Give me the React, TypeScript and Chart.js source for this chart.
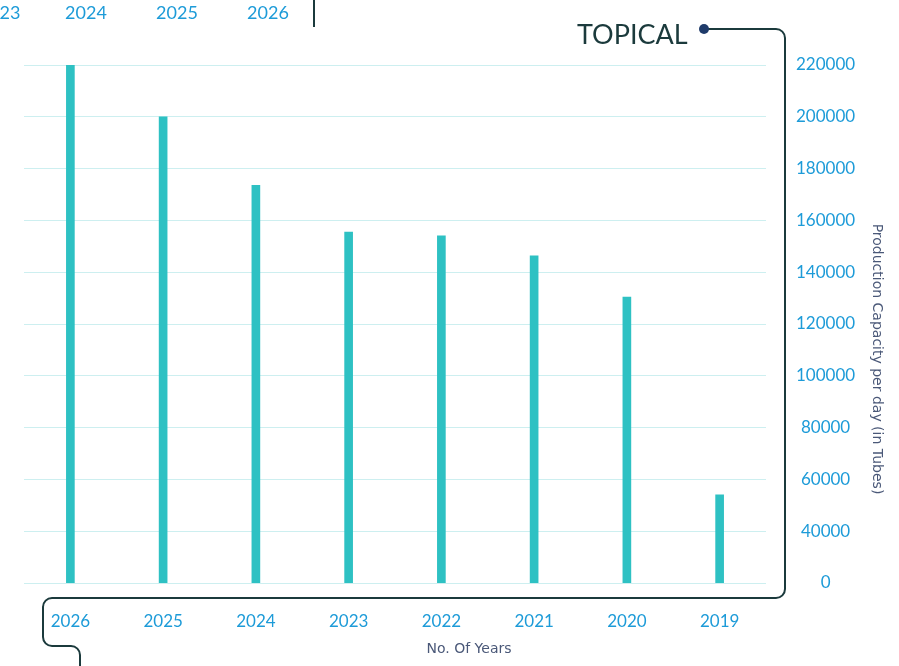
import React, { useEffect, useRef } from "react";
import { Chart, registerables } from "chart.js";

Chart.register(...registerables);

// Production capacity per day, by year
const years = ["2026", "2025", "2024", "2023", "2022", "2021", "2020", "2019"];
const capacity = [220000, 200000, 173500, 155500, 154000, 146300, 130400, 54000];

// Value axis: lowest gridline is labelled "0"
const yMin = 20000;
const yMax = 220000;
const yStep = 20000;
const yTickLabels = ["0", "40000", "60000", "80000", "100000", "120000", "140000", "160000", "180000", "200000", "220000"];

// Year labels of the neighbouring panel, cut off at the top edge
const topStripLabels = ["23", "2024", "2025", "2026"];

const xTitle = "No. Of Years";
const yTitle = "Production Capacity per day (in Tubes)";

const FONT = "Lato, 'Open Sans', sans-serif";
const TITLE_FONT = "'DejaVu Sans', 'Open Sans', sans-serif";
const BLUE = "#1d9bd8";
const DARK = "#1b3a3c";
const SLATE = "#4a5878";

const decorations = {
  id: "decorations",
  afterDraw(chart: any) {
    const { ctx } = chart;
    ctx.save();

    // strip of labels at the very top
    ctx.fillStyle = BLUE;
    ctx.font = `18px ${FONT}`;
    ctx.textBaseline = "middle";
    ctx.textAlign = "center";
    const stripX = [10, 86, 177, 268];
    topStripLabels.forEach((t, i) => ctx.fillText(t, stripX[i], 13));
    ctx.strokeStyle = DARK;
    ctx.lineWidth = 2;
    ctx.beginPath();
    ctx.moveTo(314, 0);
    ctx.lineTo(314, 27);
    ctx.stroke();

    // axis titles
    ctx.fillStyle = SLATE;
    ctx.font = `14px ${TITLE_FONT}`;
    ctx.textAlign = "center";
    ctx.textBaseline = "middle";
    ctx.fillText(xTitle, 469, 649);
    ctx.save();
    ctx.translate(877, 359);
    ctx.rotate(Math.PI / 2);
    ctx.font = `14px ${TITLE_FONT}`;
    ctx.fillText(yTitle, 0, 0);
    ctx.restore();

    // title
    ctx.fillStyle = DARK;
    ctx.font = `27px ${FONT}`;
    ctx.textAlign = "left";
    ctx.textBaseline = "alphabetic";
    ctx.fillText("TOPICAL", 577, 44);

    // connector frame
    const r = 9;
    const topY = 29;
    const rightX = 785;
    const frameBottom = 598;
    const leftX = 43;
    const lowY = 646;
    const tailX = 80;
    ctx.strokeStyle = DARK;
    ctx.lineWidth = 2;
    ctx.beginPath();
    ctx.moveTo(704, topY);
    ctx.lineTo(rightX - r, topY);
    ctx.arcTo(rightX, topY, rightX, topY + r, r);
    ctx.lineTo(rightX, frameBottom - r);
    ctx.arcTo(rightX, frameBottom, rightX - r, frameBottom, r);
    ctx.lineTo(leftX + r, frameBottom);
    ctx.arcTo(leftX, frameBottom, leftX, frameBottom + r, r);
    ctx.lineTo(leftX, lowY - r);
    ctx.arcTo(leftX, lowY, leftX + r, lowY, r);
    ctx.lineTo(tailX - r, lowY);
    ctx.arcTo(tailX, lowY, tailX, lowY + r, r);
    ctx.lineTo(tailX, 668);
    ctx.stroke();

    ctx.fillStyle = "#1f3b6a";
    ctx.beginPath();
    ctx.arc(704, topY, 5, 0, Math.PI * 2);
    ctx.fill();

    ctx.restore();
  },
};

export default function App() {
  const canvasRef = useRef<HTMLCanvasElement | null>(null);

  useEffect(() => {
    document.body.style.margin = "0";
    const canvas = canvasRef.current;
    if (!canvas) return;
    const chart = new Chart(canvas, {
      type: "bar",
      data: {
        labels: years,
        datasets: [
          {
            data: capacity,
            backgroundColor: "#2ec1c3",
            borderWidth: 0,
            barThickness: 8,
          },
        ],
      },
      options: {
        animation: false,
        responsive: false,
        maintainAspectRatio: false,
        layout: { padding: { left: 24, top: 65, right: 6, bottom: 9 } },
        plugins: {
          legend: { display: false },
          tooltip: { enabled: false },
        },
        scales: {
          x: {
            grid: { display: false, drawTicks: false },
            border: { display: false },
            ticks: {
              color: BLUE,
              font: { family: FONT, size: 17 },
              padding: 28,
              maxRotation: 0,
            },
            afterFit: (scale: any) => {
              scale.height = 74;
            },
          },
          y: {
            position: "right",
            min: yMin,
            max: yMax,
            grid: { color: "#cdeff0", lineWidth: 1, drawTicks: false },
            border: { display: false },
            ticks: {
              stepSize: yStep,
              color: BLUE,
              font: { family: FONT, size: 17 },
              padding: 30,
              crossAlign: "center",
              callback: (_v: any, i: number) => yTickLabels[i],
            },
            afterFit: (scale: any) => {
              scale.width = 127;
            },
          },
        },
      },
      plugins: [decorations],
    });
    return () => chart.destroy();
  }, []);

  return (
    <div style={{ width: 899, height: 666 }}>
      <canvas ref={canvasRef} width={899} height={666} />
    </div>
  );
}
